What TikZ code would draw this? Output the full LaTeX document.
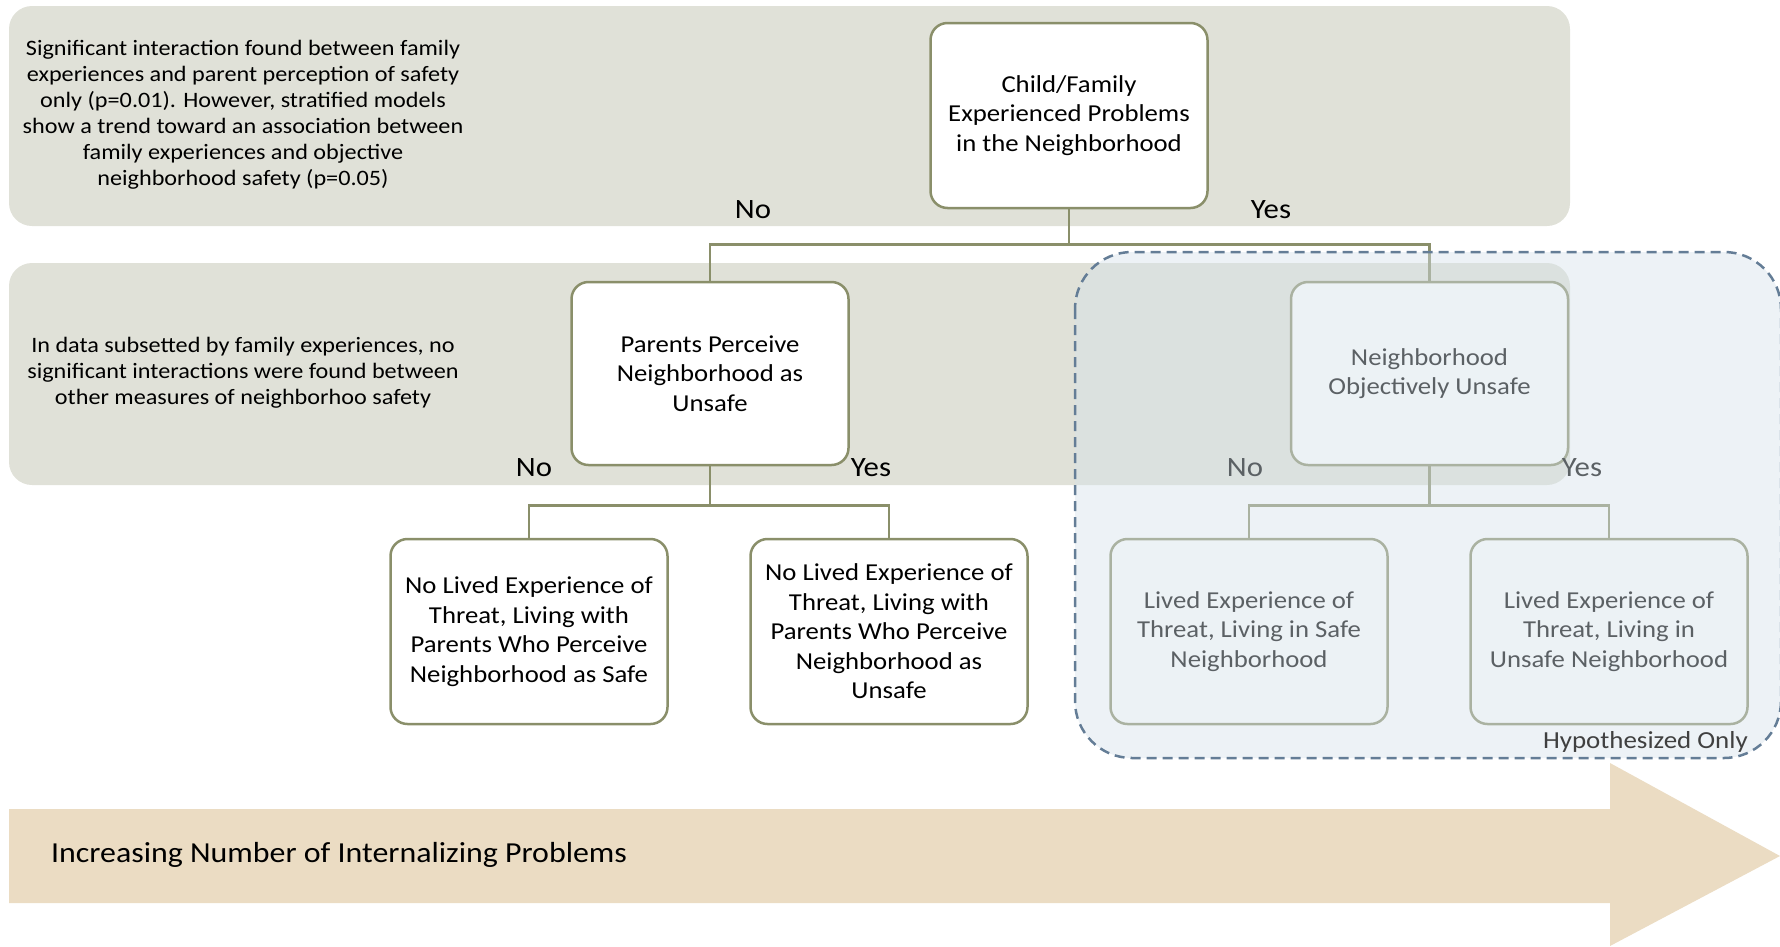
\documentclass[tikz,border=0pt]{standalone}
\usepackage{fontspec}
\setmainfont[FakeStretch=1.1]{Carlito}
\definecolor{bandgray}{RGB}{224,225,216}
\definecolor{olive}{RGB}{138,143,106}
\definecolor{hypo}{RGB}{213,225,234}
\definecolor{hypoline}{RGB}{100,125,150}
\definecolor{arrowtan}{RGB}{235,220,195}
\definecolor{darkgraytext}{RGB}{64,64,64}
\begin{document}
\begin{tikzpicture}[x=1pt,y=-1pt,
  treebox/.style={draw=olive, line width=2.5pt, fill=white, rounded corners=17pt,
    minimum width=277pt, minimum height=185pt, align=center,
    font=\fontsize{24.3}{29.5}\selectfont, inner sep=0pt},
  link/.style={draw=olive, line width=2.5pt},
  branchlabel/.style={font=\fontsize{28}{32}\selectfont},
  note/.style={align=center, font=\fontsize{22}{26}\selectfont},
  band/.style={fill=bandgray, rounded corners=23pt}]
\useasboundingbox (0,0) rectangle (1780,946);
% bands
\path[band] (9,6) rectangle (1570,226);
\path[band] (9,263) rectangle (1570,485);
% notes
\node[note] (note1) at (243,115) {Significant interaction found between family\\experiences and parent perception of safety\\only (p=0.01). However, stratified models\\show a trend toward an association between\\family experiences and objective\\neighborhood safety (p=0.05)};
\node[note] (note2) at (243,373) {In data subsetted by family experiences, no\\significant interactions were found between\\other measures of neighborhoo safety};
% boxes
\node[treebox] (root) at (1069,115.5) {Child/Family\\Experienced Problems\\in the Neighborhood};
\node[treebox, minimum height=183pt] (parents) at (710,373.5) {Parents Perceive\\Neighborhood as\\Unsafe};
\node[treebox, minimum height=183pt] (objective) at (1429.5,373.5) {Neighborhood\\Objectively Unsafe};
\node[treebox] (leafA) at (529,631.5) {No Lived Experience of\\Threat, Living with\\Parents Who Perceive\\Neighborhood as Safe};
\node[treebox] (leafB) at (889,631.5) {No Lived Experience of\\Threat, Living with\\Parents Who Perceive\\Neighborhood as\\Unsafe};
\node[treebox] (leafC) at (1249,631.5) {Lived Experience of\\Threat, Living in Safe\\Neighborhood};
\node[treebox] (leafD) at (1609,631.5) {Lived Experience of\\Threat, Living in\\Unsafe Neighborhood};
% connectors
\draw[link] (root.south) -- ++(0,35) coordinate (j1);
\draw[link] (j1) -| (parents.north);
\draw[link] (j1) -| (objective.north);
\draw[link] (parents.south) -- ++(0,39) coordinate (j2);
\draw[link] (j2) -| (leafA.north);
\draw[link] (j2) -| (leafB.north);
\draw[link] (objective.south) -- ++(0,39) coordinate (j3);
\draw[link] (j3) -| (leafC.north);
\draw[link] (j3) -| (leafD.north);
% branch labels
\node[branchlabel] (l1) at (753,210) {No};
\node[branchlabel] (l2) at (1271,210) {Yes};
\node[branchlabel] (l3) at (534,468) {No};
\node[branchlabel] (l4) at (871,468) {Yes};
\node[branchlabel] (l5) at (1245,468) {No};
\node[branchlabel] (l6) at (1582,468) {Yes};
% hypothesized overlay
\path[fill=hypo, fill opacity=0.43, rounded corners=57pt] (1075,252) rectangle (1781,758);
\draw[hypoline, line width=2.5pt, dash pattern=on 10pt off 6pt, rounded corners=57pt] (1075,252) rectangle (1781,758);
\node[anchor=east, text=darkgraytext, font=\fontsize{24.5}{28}\selectfont, inner sep=0pt] (hyp) at (1748,742) {Hypothesized Only};
% big arrow
\fill[arrowtan] (9,809) -- (1610,809) -- (1610,763) -- (1780,856) -- (1610,946) -- (1610,903) -- (9,903) -- cycle;
\node[anchor=west, font=\fontsize{29}{34}\selectfont, inner sep=0pt] (arrowtext) at (51,855) {Increasing Number of Internalizing Problems};
\end{tikzpicture}
\end{document}
